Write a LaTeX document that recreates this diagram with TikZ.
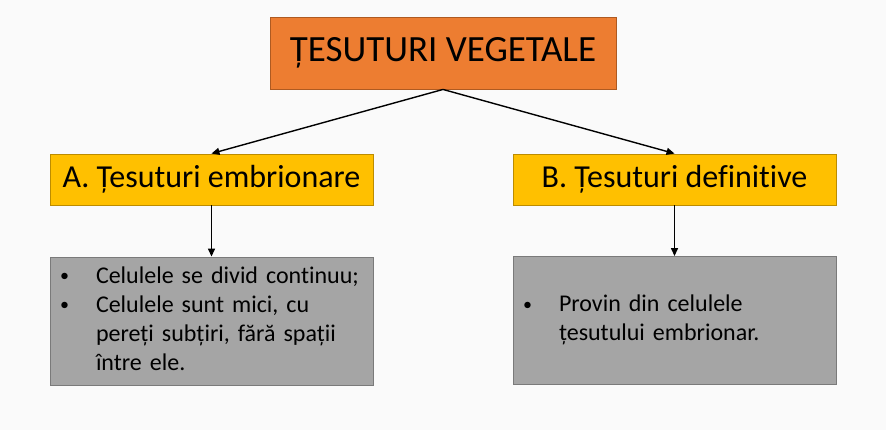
\documentclass[tikz,border=0pt]{standalone}
\usepackage{fontspec}
\setmainfont[Ligatures=NoCommon]{Carlito}
\usepackage{array}
\usetikzlibrary{arrows.meta}
\definecolor{bgcol}{HTML}{FAFAFA}
\definecolor{orangefill}{HTML}{ED7D31}
\definecolor{orangeline}{HTML}{AE5A21}
\definecolor{goldfill}{HTML}{FFC000}
\definecolor{goldline}{HTML}{BC8C00}
\definecolor{grayfill}{HTML}{A5A5A5}
\definecolor{grayline}{HTML}{7A7A7A}
\tikzset{
	box/.style = {align=center, inner sep=0pt, text centered, line width=0.9pt},
	mainbox/.style = {box, fill=orangefill, draw=orangeline, minimum width=346pt, minimum height=72pt, font=\fontsize{37}{44}\selectfont},
	groupbox/.style = {box, fill=goldfill, draw=goldline, minimum width=323pt, minimum height=51pt, font=\fontsize{32}{38}\selectfont},
	notebox/.style = {box, align=left, fill=grayfill, draw=grayline, inner xsep=8pt, text width=307pt, minimum height=128pt, font=\fontsize{24}{29}\selectfont},
	arr/.style = {-{Triangle[length=8pt,width=7pt]}, line width=1.4pt, black}
}
\newcommand{\notelist}[1]{\begin{tabular}{@{}>{\raggedright}p{38pt}@{}l@{}}#1\end{tabular}}
\newcommand{\bul}{\hspace*{2pt}\raisebox{1.5pt}{\fontsize{18}{29}\selectfont •}}

\begin{document}
\begin{tikzpicture}[x=1pt, y=-1pt]
\fill [bgcol] (0,0) rectangle (886,430);
\useasboundingbox (0,0) rectangle (886,430);
\node [mainbox] (root) at (443,53) {ȚESUTURI VEGETALE};
\node [groupbox] (embr) at (211.5,179.5) {A. Țesuturi embrionare};
\node [groupbox] (defin) at (674.5,179.5) {B. Țesuturi definitive};
\node [notebox] (embrnote) at (211.5,321) {\notelist{
	\bul & Celulele se divid continuu;\\
	\bul & Celulele sunt mici, cu\\
	  & pereți subțiri, fără spații\\
	  & între ele.}};
\node [notebox] (definnote) at (674.5,320.5) {\notelist{
	\bul & Provin din celulele\\
	  & țesutului embrionar.}};
\draw [arr] (root.south) -- (embr.north);
\draw [arr] (root.south) -- (defin.north);
\draw [arr] (embr) -- (embrnote);
\draw [arr] (defin) -- (definnote);
\end{tikzpicture}
\end{document}
